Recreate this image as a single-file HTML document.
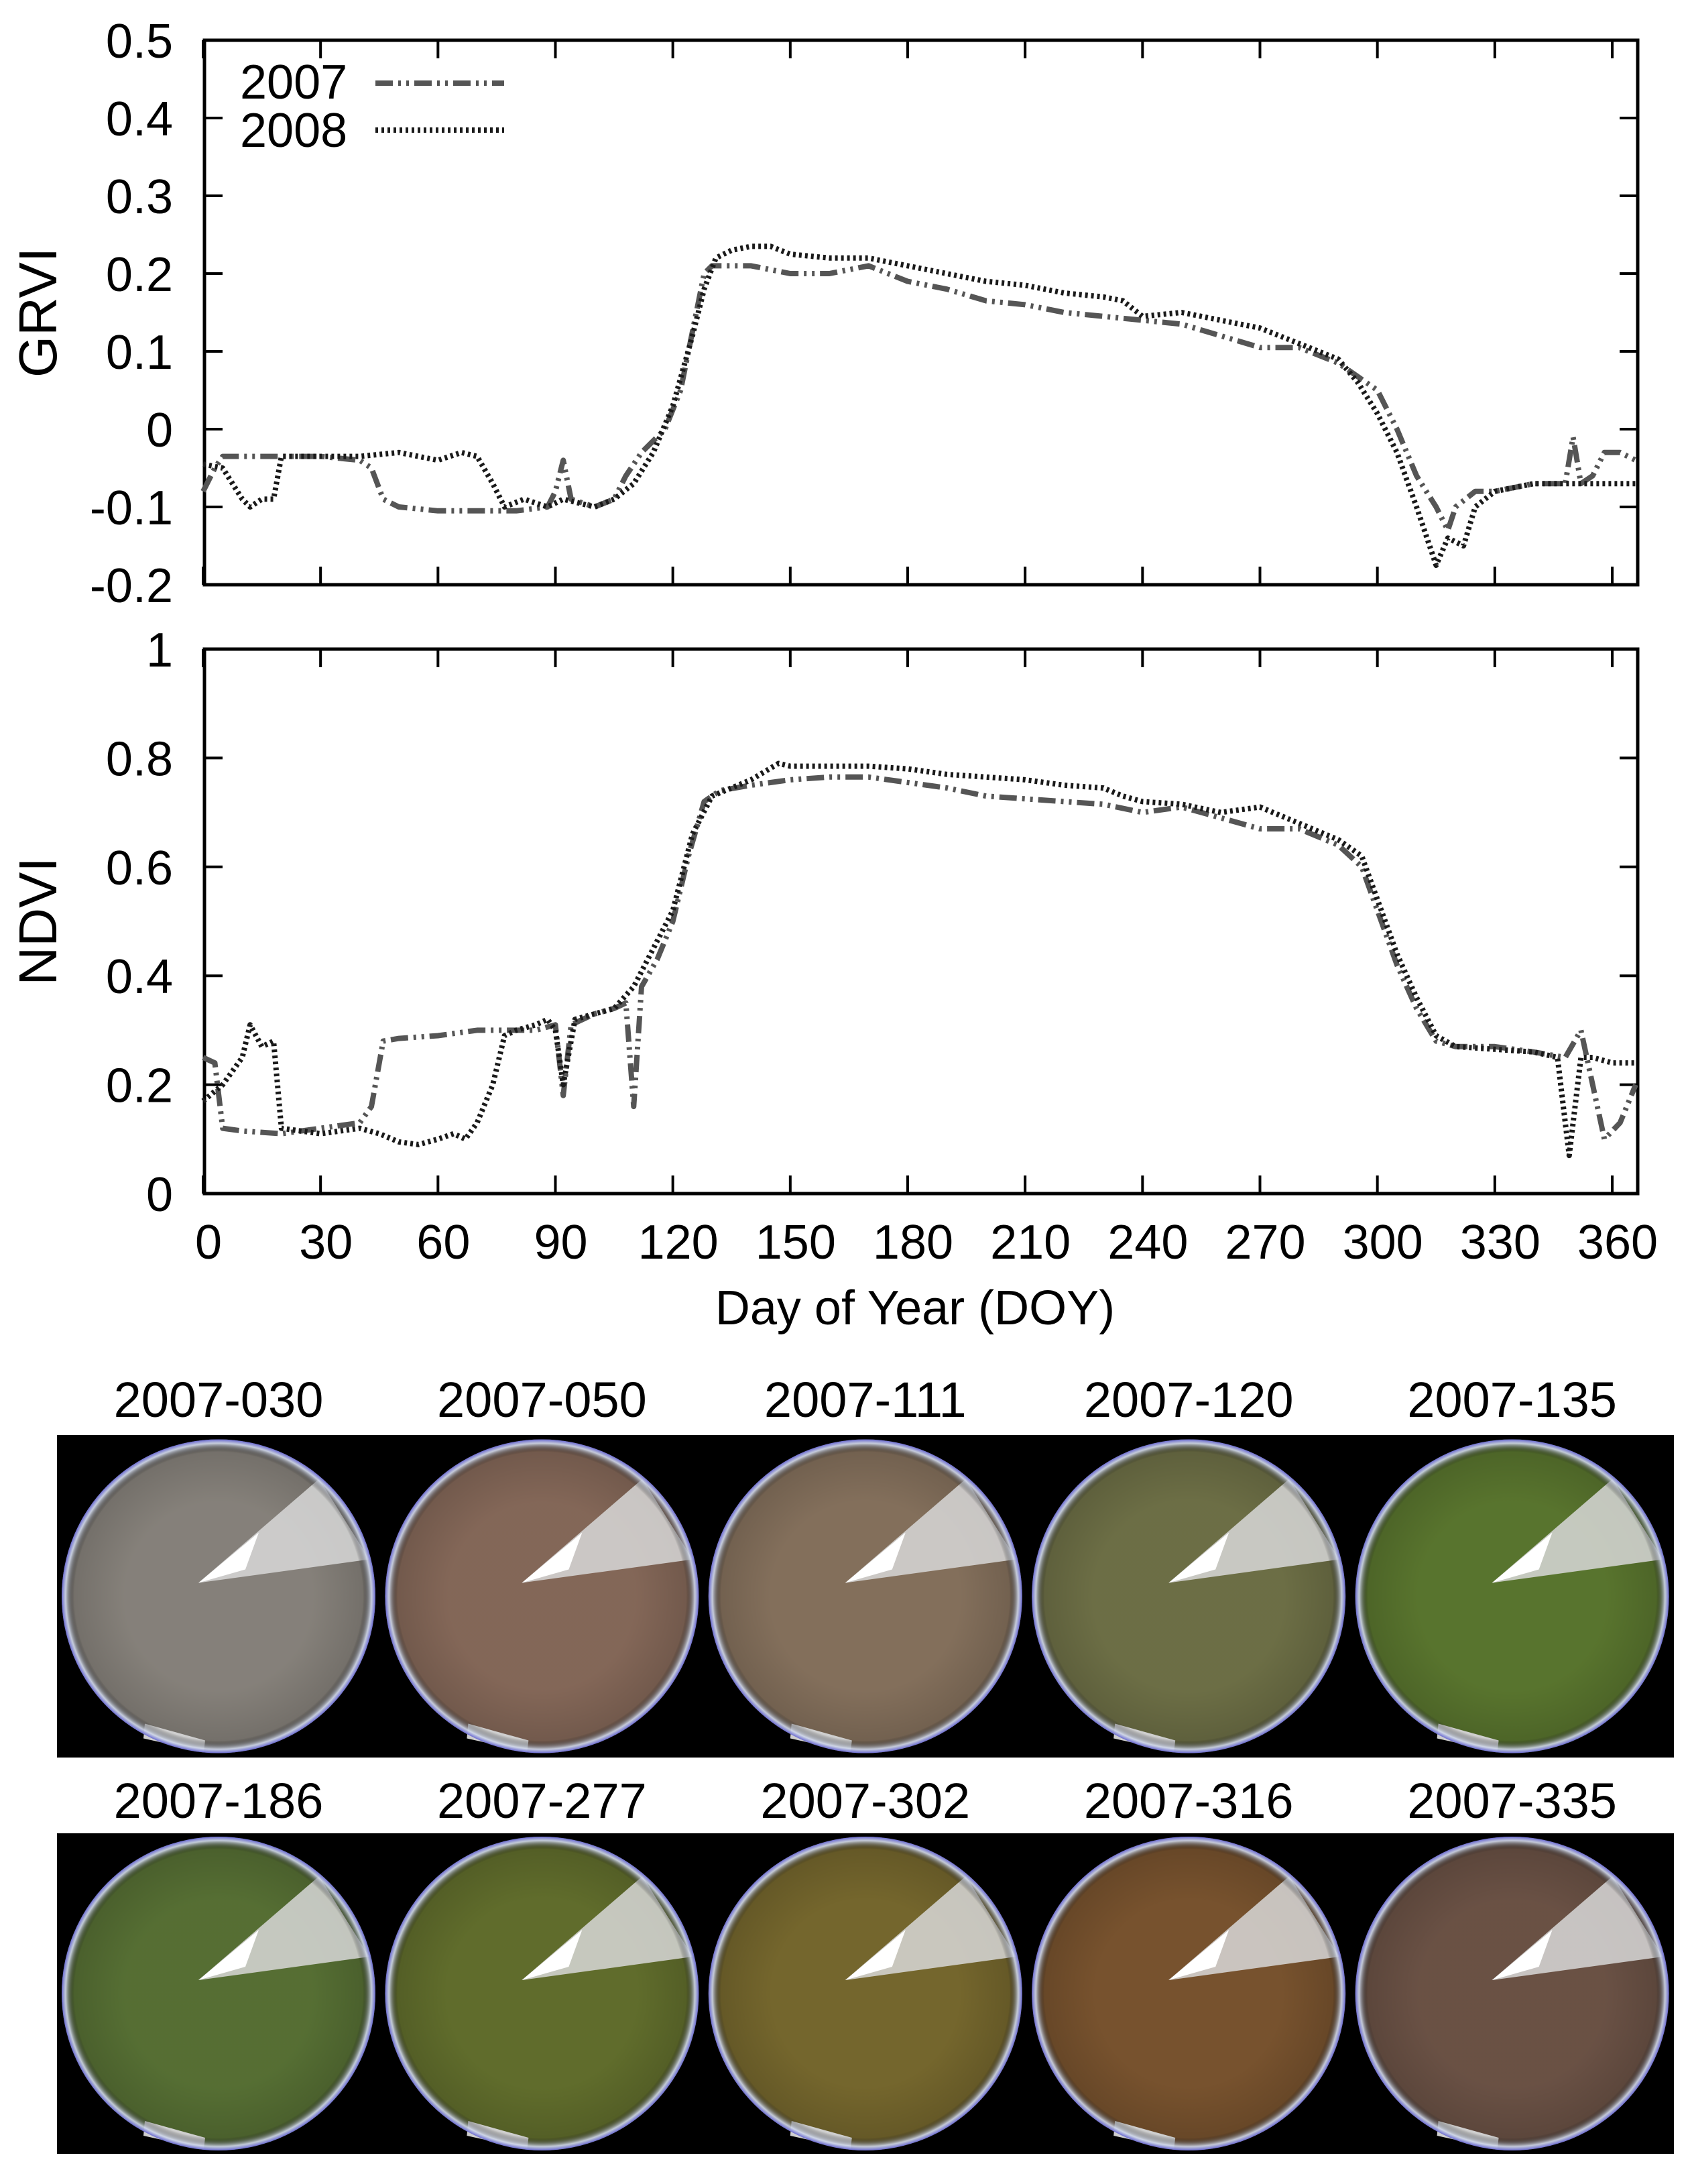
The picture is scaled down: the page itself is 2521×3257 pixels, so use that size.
<!DOCTYPE html>
<html><head><meta charset="utf-8">
<style>
html,body{margin:0;padding:0;background:#fff;}
svg{display:block;font-family:"Liberation Sans",sans-serif;}
</style></head>
<body>
<svg id="fig" width="2521" height="3257" viewBox="0 0 2521 3257" xmlns="http://www.w3.org/2000/svg">
<defs>
<radialGradient id="rim" cx="50%" cy="50%" r="50%">
<stop offset="0.92" stop-color="#000" stop-opacity="0"/>
<stop offset="0.975" stop-color="#d0d8ea" stop-opacity="0.9"/>
<stop offset="1" stop-color="#6a6ad0" stop-opacity="1"/>
</radialGradient>
<radialGradient id="shade" cx="50%" cy="50%" r="50%">
<stop offset="0.6" stop-color="#000" stop-opacity="0.05"/>
<stop offset="1" stop-color="#000" stop-opacity="0.2"/>
</radialGradient>
</defs>
<g id="charts"></g>
<g id="photos"></g>
</svg>
<script>
// ---- data ----
const ticksX = [0,30,60,90,120,150,180,210,240,270,300,330,360];
const grviTicks = [0.5,0.4,0.3,0.2,0.1,0,-0.1,-0.2];
const grviTickLabels = ["0.5","0.4","0.3","0.2","0.1","0","-0.1","-0.2"];
const ndviTicks = [1,0.8,0.6,0.4,0.2,0];
const ndviTickLabels = ["1","0.8","0.6","0.4","0.2","0"];

const grvi2007Days = [0,3,5,10,20,30,40,43,46,50,60,70,80,88,90,92,94,100,105,108,112,118,122,126,128,130,140,150,160,170,180,190,200,210,220,230,240,250,260,270,280,290,300,305,310,315,318,320,325,330,340,348,350,352,355,358,362,366];
const grvi2007Vals = [-0.08,-0.05,-0.035,-0.035,-0.035,-0.035,-0.04,-0.05,-0.09,-0.1,-0.105,-0.105,-0.105,-0.1,-0.08,-0.04,-0.09,-0.1,-0.09,-0.06,-0.03,0.0,0.05,0.15,0.2,0.21,0.21,0.2,0.2,0.21,0.19,0.18,0.165,0.16,0.15,0.145,0.14,0.135,0.12,0.105,0.105,0.085,0.05,0.0,-0.06,-0.1,-0.13,-0.1,-0.08,-0.08,-0.07,-0.07,-0.01,-0.07,-0.06,-0.03,-0.03,-0.04];
const grvi2008Days = [0,5,10,12,15,18,20,30,40,50,60,66,70,74,77,82,88,92,100,105,110,115,120,125,128,131,135,140,145,150,160,170,180,190,200,210,220,230,235,240,250,260,270,280,290,295,300,305,310,315,318,322,325,330,340,350,360,366];
const grvi2008Vals = [-0.045,-0.05,-0.09,-0.1,-0.09,-0.09,-0.035,-0.035,-0.035,-0.03,-0.04,-0.03,-0.035,-0.07,-0.1,-0.09,-0.1,-0.09,-0.1,-0.09,-0.07,-0.03,0.03,0.12,0.18,0.22,0.23,0.235,0.235,0.225,0.22,0.22,0.21,0.2,0.19,0.185,0.175,0.17,0.165,0.145,0.15,0.14,0.13,0.11,0.09,0.06,0.02,-0.03,-0.1,-0.175,-0.14,-0.15,-0.1,-0.08,-0.07,-0.07,-0.07,-0.07];

const ndvi2007Days = [0,3,5,10,20,30,40,43,46,50,60,70,80,85,90,92,94,100,105,108,110,112,116,120,124,128,132,140,150,160,170,180,190,200,210,220,230,240,250,260,270,280,290,296,300,305,310,315,320,330,340,348,352,355,358,362,366];
const ndvi2007Vals = [0.25,0.24,0.12,0.115,0.11,0.12,0.13,0.16,0.28,0.285,0.29,0.3,0.3,0.3,0.31,0.18,0.31,0.33,0.34,0.35,0.16,0.38,0.43,0.5,0.62,0.72,0.74,0.75,0.76,0.765,0.765,0.755,0.745,0.73,0.725,0.72,0.715,0.7,0.71,0.69,0.67,0.67,0.64,0.6,0.52,0.42,0.34,0.28,0.27,0.27,0.26,0.25,0.3,0.2,0.1,0.13,0.2];
const ndvi2008Days = [0,5,10,12,15,18,20,30,40,45,50,55,60,64,67,70,74,77,80,85,88,90,92,95,100,105,110,115,120,125,130,140,147,150,160,170,180,190,200,210,220,230,235,240,250,260,270,280,290,296,300,305,310,315,320,330,340,346,349,352,355,360,366];
const ndvi2008Vals = [0.17,0.2,0.25,0.31,0.27,0.28,0.12,0.11,0.12,0.11,0.095,0.09,0.1,0.11,0.1,0.13,0.2,0.29,0.3,0.31,0.32,0.3,0.2,0.32,0.33,0.34,0.38,0.45,0.52,0.66,0.73,0.76,0.79,0.785,0.785,0.785,0.78,0.77,0.765,0.76,0.75,0.745,0.73,0.72,0.715,0.7,0.71,0.68,0.65,0.62,0.54,0.44,0.36,0.29,0.27,0.265,0.26,0.25,0.07,0.25,0.25,0.24,0.24];

const photoLabels = ["2007-030","2007-050","2007-111","2007-120","2007-135","2007-186","2007-277","2007-302","2007-316","2007-335"];
const photoColors = ["#8c8780","#8a6c5c","#8a7560","#727449","#5d7a30","#5a7436","#65722e","#7a6b2f","#7d5630","#6f5548"];

// ---- helpers ----
const NS = "http://www.w3.org/2000/svg";
function mk(tag, attrs, parent){const e=document.createElementNS(NS,tag);for(const k in attrs)e.setAttribute(k,attrs[k]);parent.appendChild(e);return e;}
const X0=303, X1=2405, L=305, R=2443;
function xs(d){return X0+(d/360)*(X1-X0);}

function panel(g, top, bottom, yMin, yMax, ticks, labels, title, key){
  const ys = v => bottom-(v-yMin)/(yMax-yMin)*(bottom-top);
  const frame = mk('rect',{x:L,y:top,width:R-L,height:bottom-top,fill:'none',stroke:'#000','stroke-width':5},g);
  
  
  ticks.forEach((t,i)=>{
    const y=ys(t);
    const tk=mk('path',{d:`M${L} ${y}h27M${R} ${y}h-27`,stroke:'#000','stroke-width':4},g);
    
    
    const tl=mk('text',{x:258,y:y+26,'text-anchor':'end','font-size':72},g);
    tl.textContent=labels[i];
    
    
  });
  ticksX.forEach(d=>{
    const x=xs(d);
    const tk=mk('path',{d:`M${x} ${top}v27M${x} ${bottom}v-27`,stroke:'#000','stroke-width':4},g);
    
    
  });
  const cy=(top+bottom)/2;
  const at=mk('text',{x:0,y:0,'text-anchor':'middle','font-size':80,transform:`translate(84 ${cy}) rotate(-90)`},g);
  at.textContent=title;
  
  
  return ys;
}
function series(g, days, vals, ys, style, name){
  let d='';
  days.forEach((dd,i)=>{d+=(i?'L':'M')+xs(dd).toFixed(1)+' '+ys(vals[i]).toFixed(1);});
  const p=mk('path',Object.assign({d:d,fill:'none','stroke-linejoin':'round'},style),g);
  
  
}
const s07={stroke:'#555','stroke-width':8,'stroke-dasharray':'26 8 4 8 4 8'};
const s08={stroke:'#1a1a1a','stroke-width':8,'stroke-dasharray':'4 5'};

const charts=document.getElementById('charts');
const gTop=mk('g',{},charts);


const ysG=panel(gTop,60,872,-0.2,0.5,grviTicks,grviTickLabels,'GRVI','grvi');
series(gTop,grvi2007Days,grvi2007Vals,ysG,s07,'grvi-2007-line');
series(gTop,grvi2008Days,grvi2008Vals,ysG,s08,'grvi-2008-line');

// legend
const lg=mk('g',{},gTop);


const l1=mk('text',{x:358,y:147,'font-size':72},lg); l1.textContent='2007';


const l2=mk('text',{x:358,y:219,'font-size':72},lg); l2.textContent='2008';


const ls1=mk('path',Object.assign({d:'M560 124H752',fill:'none'},s07),lg);


const ls2=mk('path',Object.assign({d:'M560 194H752',fill:'none'},s08),lg);



const gBot=mk('g',{},charts);


const ysN=panel(gBot,968,1780,0,1,ndviTicks,ndviTickLabels,'NDVI','ndvi');
series(gBot,ndvi2007Days,ndvi2007Vals,ysN,s07,'ndvi-2007-line');
series(gBot,ndvi2008Days,ndvi2008Vals,ysN,s08,'ndvi-2008-line');
ticksX.forEach(d=>{
  const t=mk('text',{x:xs(d)+8,y:1877,'text-anchor':'middle','font-size':72},gBot);
  t.textContent=String(d);
  
  
});
const xt=mk('text',{x:1365,y:1975,'text-anchor':'middle','font-size':72},gBot);
xt.textContent='Day of Year (DOY)';



// photos
const photos=document.getElementById('photos');
const rows=[{top:2140,bot:2621,base:2113},{top:2734,bot:3212,base:2711}];
rows.forEach((r,ri)=>{
  const strip=mk('rect',{x:85,y:r.top,width:2412,height:r.bot-r.top,fill:'#000'},photos);
  
  
  for(let c=0;c<5;c++){
    const i=ri*5+c;
    const cx=326+c*482.4, cy=(r.top+r.bot)/2;
    const t=mk('text',{x:cx,y:r.base,'text-anchor':'middle','font-size':74},photos);
    t.textContent=photoLabels[i];
    
    
    const g=mk('g',{},photos);
    
    
    mk('circle',{cx:cx,cy:cy,r:234,fill:photoColors[i]},g);
    mk('circle',{cx:cx,cy:cy,r:234,fill:'url(#shade)'},g);
    // tower wedge
    mk('path',{d:`M${cx-30} ${cy-20} L${cx+150} ${cy-175} L${cx+225} ${cy-55} Z`,fill:'#d8d8d8','fill-opacity':0.85},g);
    mk('path',{d:`M${cx-30} ${cy-20} L${cx+60} ${cy-95} L${cx+40} ${cy-40} Z`,fill:'#fff'},g);
    // sensor box bottom
    mk('path',{d:`M${cx-110} ${cy+190} L${cx-20} ${cy+215} L${cx-22} ${cy+232} L${cx-112} ${cy+212} Z`,fill:'#cfcfcf'},g);
    mk('circle',{cx:cx,cy:cy,r:234,fill:'url(#rim)'},g);
  }
});
</script>
</body></html>
